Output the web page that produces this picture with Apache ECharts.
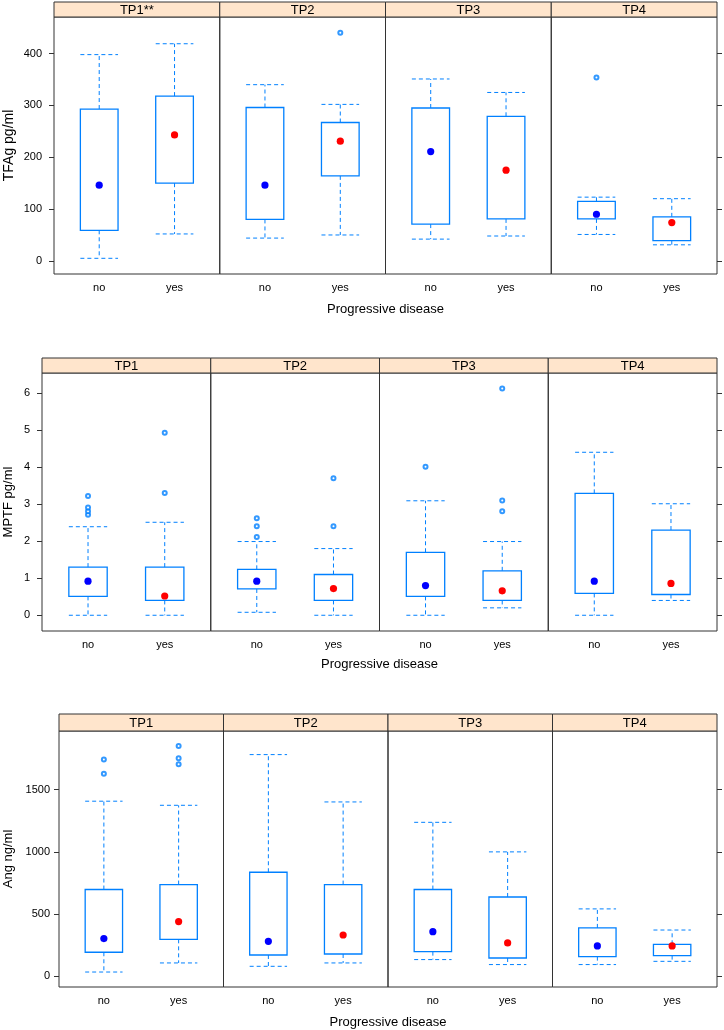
<!DOCTYPE html>
<html><head><meta charset="utf-8">
<script src="https://cdn.jsdelivr.net/npm/echarts@6/dist/echarts.min.js"></script>
<style>html,body{margin:0;padding:0;background:#fff}#c{width:724px;height:1030px}</style>
</head><body><div id="c"></div>
<script>
// ---------------- data ----------------
const groups = ['no', 'yes'];
const xTitle = 'Progressive disease';
const tfagStrips = ['TP1**', 'TP2', 'TP3', 'TP4'];
const mptfStrips = ['TP1', 'TP2', 'TP3', 'TP4'];
const angStrips  = ['TP1', 'TP2', 'TP3', 'TP4'];
// each box: [lower whisker, Q1, median, Q3, upper whisker], one per time point
const tfagNo  = [[5, 59, 146, 293, 398], [44, 80, 146, 296, 340], [42, 71, 211, 295, 351], [51, 81, 90, 115, 123]];
const tfagYes = [[52, 150, 243, 318, 419], [50, 164, 231, 267, 302], [48, 81, 175, 279, 325], [31, 39, 74, 85, 120]];
const tfagOutNo  = [[], [], [], [354]];
const tfagOutYes = [[], [440], [], []];
const mptfNo  = [[0, 0.51, 0.92, 1.30, 2.39], [0.08, 0.71, 0.92, 1.24, 1.99], [0, 0.51, 0.80, 1.70, 3.09], [0, 0.59, 0.92, 3.29, 4.40]];
const mptfYes = [[0, 0.40, 0.52, 1.30, 2.51], [0, 0.40, 0.72, 1.10, 1.80], [0.20, 0.40, 0.66, 1.20, 1.99], [0.40, 0.56, 0.86, 2.30, 3.01]];
const mptfOutNo  = [[2.71, 2.81, 2.91, 3.22], [2.11, 2.40, 2.62], [4.01], []];
const mptfOutYes = [[3.30, 4.93], [2.40, 3.70], [2.81, 3.10, 6.12], []];
const angNo  = [[32, 191, 301, 696, 1407], [78, 169, 279, 835, 1782], [132, 196, 357, 696, 1237], [92, 156, 242, 387, 540]];
const angYes = [[105, 295, 438, 736, 1374], [105, 177, 330, 736, 1401], [92, 145, 266, 636, 999], [118, 164, 242, 255, 370]];
const angOutNo  = [[1627, 1742], [], [], []];
const angOutYes = [[1704, 1753, 1852], [], [], []];
const tfagTicks = [0, 100, 200, 300, 400];
const mptfTicks = [0, 1, 2, 3, 4, 5, 6];
const angTicks  = [0, 500, 1000, 1500];
const tfagTitle = 'TFAg pg/ml';
const mptfTitle = 'MPTF pg/ml';
const angTitle  = 'Ang ng/ml';

// ---------------- layout / style ----------------
const FONT = '"Liberation Sans", Arial, sans-serif';
const BOX_COLOR = '#0080ff';
const FRAME = '#333333';
const STRIP_BG = '#ffe5cc';
const charts = [
  { strips: tfagStrips, no: tfagNo, yes: tfagYes, outNo: tfagOutNo, outYes: tfagOutYes, ticks: tfagTicks, title: tfagTitle,
    left: 54, right: 717, top: 2, stripB: 17, bottom: 274, yMin: -25.3, yMax: 470.6, nameGap: 38, nameSize: 14, labMargin: 12, xTitleY: 309 },
  { strips: mptfStrips, no: mptfNo, yes: mptfYes, outNo: mptfOutNo, outYes: mptfOutYes, ticks: mptfTicks, title: mptfTitle,
    left: 42, right: 717, top: 358, stripB: 373, bottom: 631, yMin: -0.425, yMax: 6.54, nameGap: 27, nameSize: 13, labMargin: 12, xTitleY: 664 },
  { strips: angStrips, no: angNo, yes: angYes, outNo: angOutNo, outYes: angOutYes, ticks: angTicks, title: angTitle,
    left: 59, right: 717, top: 714, stripB: 731, bottom: 987, yMin: -88.6, yMax: 1972, nameGap: 44, nameSize: 13, labMargin: 9, xTitleY: 1022 }
];

function renderBox(params, api) {
  const x = api.value(0);
  const pLo = api.coord([x, api.value(1)]);
  const pQ1 = api.coord([x, api.value(2)]);
  const pMed = api.coord([x, api.value(3)]);
  const pQ3 = api.coord([x, api.value(4)]);
  const pHi = api.coord([x, api.value(5)]);
  const w = api.size([0.5, 0])[0];
  const h = w / 2;
  const cx = pMed[0];
  const dash = { stroke: BOX_COLOR, lineWidth: 1, lineDash: [4, 3], fill: null };
  const dotColor = params.dataIndex === 0 ? '#0000ff' : '#ff0000';
  return {
    type: 'group',
    children: [
      { type: 'line', shape: { x1: cx, y1: pQ3[1], x2: cx, y2: pHi[1] }, style: dash },
      { type: 'line', shape: { x1: cx - h, y1: pHi[1], x2: cx + h, y2: pHi[1] }, style: dash },
      { type: 'line', shape: { x1: cx, y1: pQ1[1], x2: cx, y2: pLo[1] }, style: dash },
      { type: 'line', shape: { x1: cx - h, y1: pLo[1], x2: cx + h, y2: pLo[1] }, style: dash },
      { type: 'rect', shape: { x: cx - h, y: pQ3[1], width: w, height: pQ1[1] - pQ3[1] },
        style: { fill: null, stroke: BOX_COLOR, lineWidth: 1.3 } },
      { type: 'circle', shape: { cx: cx, cy: pMed[1], r: 3.6 }, style: { fill: dotColor } }
    ]
  };
}

const grid = [], xAxis = [], yAxis = [], series = [], graphic = [];
charts.forEach((c, ci) => {
  const pw = (c.right - c.left) / 4;
  for (let p = 0; p < 4; p++) {
    const idx = ci * 4 + p;
    const gx = c.left + p * pw;
    grid.push({ left: gx, top: c.stripB, width: pw, height: c.bottom - c.stripB,
      show: true, borderColor: FRAME, borderWidth: 1, backgroundColor: 'transparent',
      containLabel: false, outerBoundsMode: 'none' });
    xAxis.push({ gridIndex: idx, type: 'value', min: 0.4, max: 2.6,
      axisLine: { show: false }, axisTick: { show: false }, splitLine: { show: false },
      axisLabel: { customValues: [1, 2], formatter: v => groups[Math.round(v) - 1],
        margin: 8, fontSize: 11, color: '#000', fontFamily: FONT } });
    const y = { gridIndex: idx, type: 'value', min: c.yMin, max: c.yMax,
      axisLine: { show: false }, splitLine: { show: false },
      axisTick: { show: false }, axisLabel: { show: false } };
    if (p === 0) {
      y.position = 'left';
      y.axisTick = { show: true, length: 5, customValues: c.ticks, lineStyle: { color: FRAME, width: 1 } };
      y.axisLabel = { show: true, customValues: c.ticks, formatter: v => String(v), margin: c.labMargin,
        fontSize: 11, color: '#000', fontFamily: FONT };
      y.name = c.title;
      y.nameLocation = 'middle';
      y.nameGap = c.nameGap;
      y.nameTextStyle = { fontSize: c.nameSize, color: '#000', fontFamily: FONT };
    } else if (p === 3) {
      y.position = 'right';
      y.axisTick = { show: true, length: 5, customValues: c.ticks, lineStyle: { color: FRAME, width: 1 } };
    }
    yAxis.push(y);
    series.push({ type: 'custom', xAxisIndex: idx, yAxisIndex: idx, renderItem: renderBox, silent: true,
      clip: false, encode: { x: 0, y: [1, 2, 3, 4, 5] },
      data: [[1].concat(c.no[p]), [2].concat(c.yes[p])] });
    const outs = c.outNo[p].map(v => [1, v]).concat(c.outYes[p].map(v => [2, v]));
    series.push({ type: 'scatter', xAxisIndex: idx, yAxisIndex: idx, silent: true,
      symbol: 'emptyCircle', symbolSize: 4,
      itemStyle: { color: BOX_COLOR, borderColor: BOX_COLOR, borderWidth: 1 },
      data: outs });
    // strip
    graphic.push({ type: 'rect', shape: { x: gx, y: c.top, width: pw, height: c.stripB - c.top },
      style: { fill: STRIP_BG, stroke: FRAME, lineWidth: 1 }, z: 10 });
    graphic.push({ type: 'text', x: gx + pw / 2, y: (c.top + c.stripB) / 2 + 0.5, z: 11,
      style: { text: c.strips[p], textAlign: 'center', textVerticalAlign: 'middle',
        font: '13px ' + FONT, fill: '#000' } });
  }
  graphic.push({ type: 'text', x: (c.left + c.right) / 2, y: c.xTitleY, z: 11,
    style: { text: xTitle, textAlign: 'center', textVerticalAlign: 'middle',
      font: '13px ' + FONT, fill: '#000' } });
});

const chart = echarts.init(document.getElementById('c'), null, { renderer: 'canvas' });
chart.setOption({ animation: false, backgroundColor: '#fff', grid, xAxis, yAxis, series, graphic });
</script>
</body></html>
